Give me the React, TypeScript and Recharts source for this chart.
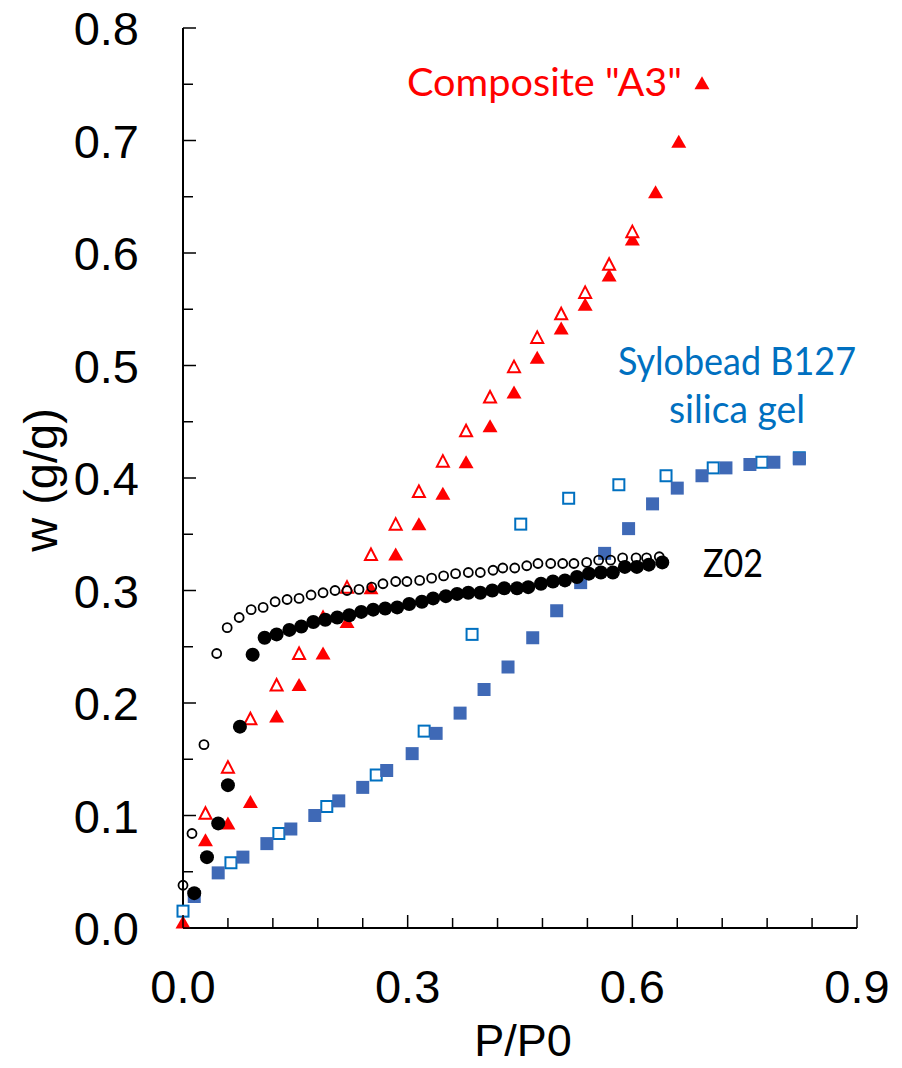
import React from 'react';
import { ScatterChart, Scatter, XAxis, YAxis, Customized } from 'recharts';

// Composite "A3" – shared P/P0 grid, adsorption (filled) and desorption (open)
const a3X = [0, 0.03, 0.06, 0.09, 0.125, 0.155, 0.187, 0.219, 0.251, 0.284, 0.315, 0.347, 0.378, 0.41, 0.442, 0.473, 0.505, 0.537, 0.569, 0.6, 0.631, 0.662, 0.693];
const a3Ads = [0.005, 0.078, 0.093, 0.112, 0.188, 0.216, 0.244, 0.272, 0.302, 0.332, 0.359, 0.386, 0.414, 0.446, 0.476, 0.507, 0.533, 0.554, 0.58, 0.612, 0.654, 0.699, 0.751];
const a3DesX = [0.03, 0.06, 0.09, 0.125, 0.155, 0.187, 0.219, 0.251, 0.284, 0.315, 0.347, 0.378, 0.41, 0.442, 0.473, 0.505, 0.537, 0.569, 0.6];
const a3Des = [0.102, 0.143, 0.186, 0.216, 0.244, 0.276, 0.303, 0.332, 0.359, 0.388, 0.415, 0.442, 0.472, 0.499, 0.525, 0.546, 0.565, 0.59, 0.619];

// Z02
const z02AdsX = [0.015, 0.032, 0.047, 0.06, 0.076, 0.093, 0.109, 0.125, 0.142, 0.158, 0.174, 0.19, 0.206, 0.222, 0.238, 0.254, 0.27, 0.286, 0.302, 0.319, 0.334, 0.351, 0.366, 0.381, 0.397, 0.413, 0.429, 0.446, 0.461, 0.478, 0.494, 0.51, 0.526, 0.542, 0.558, 0.574, 0.59, 0.606, 0.622, 0.64];
const z02Ads = [0.031, 0.063, 0.093, 0.127, 0.179, 0.243, 0.258, 0.261, 0.265, 0.268, 0.272, 0.274, 0.276, 0.278, 0.281, 0.283, 0.284, 0.285, 0.288, 0.29, 0.293, 0.295, 0.297, 0.298, 0.298, 0.3, 0.302, 0.302, 0.303, 0.306, 0.308, 0.309, 0.312, 0.315, 0.316, 0.316, 0.321, 0.321, 0.323, 0.325];
const z02DesX = [0, 0.012, 0.028, 0.045, 0.059, 0.075, 0.091, 0.107, 0.123, 0.139, 0.155, 0.171, 0.187, 0.203, 0.219, 0.235, 0.252, 0.267, 0.284, 0.299, 0.316, 0.332, 0.348, 0.364, 0.381, 0.397, 0.414, 0.427, 0.443, 0.459, 0.474, 0.491, 0.507, 0.522, 0.539, 0.555, 0.571, 0.587, 0.605, 0.619, 0.636];
const z02Des = [0.038, 0.084, 0.163, 0.244, 0.267, 0.276, 0.283, 0.285, 0.29, 0.292, 0.293, 0.296, 0.298, 0.3, 0.3, 0.301, 0.303, 0.306, 0.308, 0.308, 0.309, 0.311, 0.313, 0.315, 0.316, 0.316, 0.318, 0.32, 0.32, 0.322, 0.324, 0.324, 0.324, 0.324, 0.325, 0.327, 0.327, 0.329, 0.329, 0.329, 0.33];

// Sylobead B127 silica gel
const sbAdsX = [0.015, 0.047, 0.08, 0.112, 0.144, 0.176, 0.208, 0.24, 0.272, 0.306, 0.338, 0.37, 0.402, 0.434, 0.467, 0.499, 0.531, 0.563, 0.595, 0.627, 0.66, 0.693, 0.725, 0.757, 0.789, 0.823];
const sbAds = [0.028, 0.049, 0.063, 0.075, 0.088, 0.1, 0.113, 0.125, 0.14, 0.155, 0.173, 0.191, 0.212, 0.232, 0.258, 0.282, 0.307, 0.333, 0.355, 0.377, 0.391, 0.402, 0.409, 0.412, 0.414, 0.417];
const sbDesX = [0, 0.064, 0.128, 0.192, 0.258, 0.322, 0.386, 0.451, 0.515, 0.582, 0.645, 0.708, 0.773, 0.823];
const sbDes = [0.015, 0.058, 0.084, 0.108, 0.136, 0.175, 0.261, 0.359, 0.382, 0.394, 0.402, 0.409, 0.414, 0.418];

// axis ticks (minor + labelled)
const xTicks = [0, 0.06, 0.12, 0.18, 0.24, 0.3, 0.36, 0.42, 0.48, 0.54, 0.6, 0.66, 0.72, 0.78, 0.84, 0.9];
const xLabelTicks = [0, 0.3, 0.6, 0.9];
const yTicks = [0, 0.05, 0.1, 0.15, 0.2, 0.25, 0.3, 0.35, 0.4, 0.45, 0.5, 0.55, 0.6, 0.65, 0.7, 0.75, 0.8];
const yLabelTicks = [0, 0.1, 0.2, 0.3, 0.4, 0.5, 0.6, 0.7, 0.8];

const RED = '#FF0000';
const BLUE_TEXT = '#0070C0';
const BLUE_FILL = '#3F69B6';
const ARIAL = '"Liberation Sans", Arial, sans-serif';
const CALIBRI = 'Lato, "Open Sans", sans-serif';

const zip = (xs: number[], ys: number[]) => xs.map((x, i) => ({ x, y: ys[i] }));
const isIn = (list: number[], v: number) => list.some((l) => Math.abs(l - v) < 1e-6);

const FilledTriangle = ({ cx, cy }: any) => (
  <polygon points={`${cx},${cy - 7} ${cx + 7.5},${cy + 6} ${cx - 7.5},${cy + 6}`} fill={RED} />
);
const OpenTriangle = ({ cx, cy }: any) => (
  <polygon points={`${cx},${cy - 6} ${cx + 6},${cy + 5.5} ${cx - 6},${cy + 5.5}`} fill="#fff" stroke={RED} strokeWidth={2} />
);
const FilledCircle = ({ cx, cy }: any) => <circle cx={cx} cy={cy} r={7} fill="#000" />;
const OpenCircle = ({ cx, cy }: any) => <circle cx={cx} cy={cy} r={4.5} fill="none" stroke="#000" strokeWidth={1.8} />;
const FilledSquare = ({ cx, cy }: any) => <rect x={cx - 6.5} y={cy - 6.5} width={13} height={13} fill={BLUE_FILL} />;
const OpenSquare = ({ cx, cy }: any) => (
  <rect x={cx - 5.5} y={cy - 5.5} width={11} height={11} fill="#fff" stroke={BLUE_TEXT} strokeWidth={2} />
);

const XTick = ({ x, y, payload }: any) => {
  const major = isIn(xLabelTicks, payload.value);
  return (
    <g>
      <line x1={x} x2={x} y1={y} y2={y - (major ? 13 : 10)} stroke="#000" strokeWidth={1.5} />
      {major && (
        <text x={x} y={y + 75} textAnchor="middle" fontSize={47} fontFamily={ARIAL} fill="#000">
          {payload.value.toFixed(1)}
        </text>
      )}
    </g>
  );
};

const YTick = ({ x, y, payload }: any) => {
  const major = isIn(yLabelTicks, payload.value);
  return (
    <g>
      <line x1={x} x2={x + (major ? 13 : 10)} y1={y} y2={y} stroke="#000" strokeWidth={1.5} />
      {major && (
        <text x={x - 44} y={y + 17} textAnchor="end" fontSize={47} fontFamily={ARIAL} fill="#000">
          {payload.value.toFixed(1)}
        </text>
      )}
    </g>
  );
};

const Annotations = () => (
  <g>
    <text x={523} y={1056} textAnchor="middle" fontSize={45} fontFamily={ARIAL} fill="#000">P/P0</text>
    <text x={57} y={480} transform="rotate(-90, 57, 480)" textAnchor="middle" fontSize={47} fontFamily={ARIAL} fill="#000">
      w (g/g)
    </text>
    <text x={407} y={96} fontSize={39} fontFamily={CALIBRI} fill={RED} textLength={275} lengthAdjust="spacingAndGlyphs">
      Composite "A3"
    </text>
    <text x={618} y={375} fontSize={39} fontFamily={CALIBRI} fill={BLUE_TEXT} textLength={238} lengthAdjust="spacingAndGlyphs">
      Sylobead B127
    </text>
    <text x={669} y={423} fontSize={39} fontFamily={CALIBRI} fill={BLUE_TEXT} textLength={136} lengthAdjust="spacingAndGlyphs">
      silica gel
    </text>
    <text x={703} y={577} fontSize={39} fontFamily={CALIBRI} fill="#000" textLength={60} lengthAdjust="spacingAndGlyphs">
      Z02
    </text>
  </g>
);

export default function App() {
  return (
    <div style={{ position: 'absolute', left: 0, top: 0, background: '#fff' }}>
      <ScatterChart width={902} height={1068} margin={{ top: 28, right: 45, bottom: 0, left: 0 }}>
        <XAxis
          type="number"
          dataKey="x"
          domain={[0, 0.9]}
          ticks={xTicks}
          interval={0}
          height={140}
          tickSize={0}
          tickMargin={0}
          tickLine={false}
          axisLine={{ stroke: '#000', strokeWidth: 2 }}
          tick={<XTick />}
        />
        <YAxis
          type="number"
          dataKey="y"
          domain={[0, 0.8]}
          ticks={yTicks}
          interval={0}
          width={183}
          tickSize={0}
          tickMargin={0}
          tickLine={false}
          axisLine={{ stroke: '#000', strokeWidth: 2 }}
          tick={<YTick />}
        />
        <Scatter data={zip(sbDesX, sbDes)} shape={OpenSquare} isAnimationActive={false} />
        <Scatter data={zip(sbAdsX, sbAds)} shape={FilledSquare} isAnimationActive={false} />
        <Scatter data={zip(a3X, a3Ads)} shape={FilledTriangle} isAnimationActive={false} />
        <Scatter data={zip(a3DesX, a3Des)} shape={OpenTriangle} isAnimationActive={false} />
        <Scatter data={zip(z02DesX, z02Des)} shape={OpenCircle} isAnimationActive={false} />
        <Scatter data={zip(z02AdsX, z02Ads)} shape={FilledCircle} isAnimationActive={false} />
        <Customized component={Annotations} />
      </ScatterChart>
    </div>
  );
}
